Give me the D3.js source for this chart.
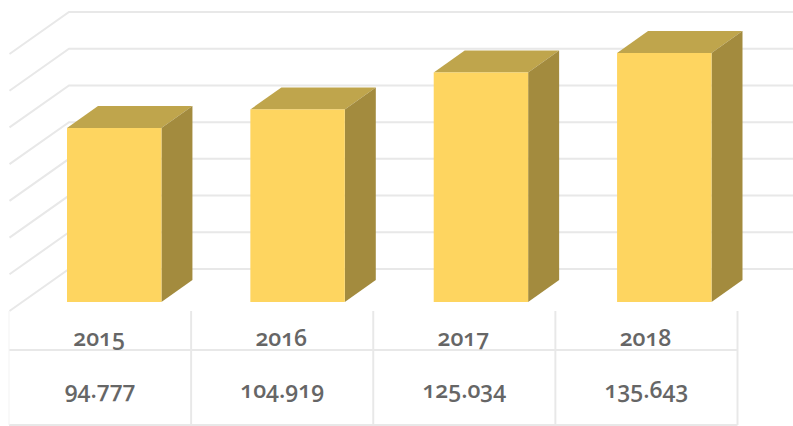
<!DOCTYPE html>
<html>
<head>
<meta charset="utf-8">
<script src="https://cdn.jsdelivr.net/npm/d3@7"></script>
<style>
  html, body { margin: 0; padding: 0; background: #fff; }
  text { font-family: "Open Sans", sans-serif; font-variant-numeric: oldstyle-nums; font-weight: 600; fill: #666; }
</style>
</head>
<body>
<svg id="chart" width="793" height="426"></svg>
<script>
const years = ["2015", "2016", "2017", "2018"];
const amounts = [94.777, 104.919, 125.034, 135.643];
const gridTicks = [0, 20, 40, 60, 80, 100, 120, 140];

const frontFace = "#fed560";
const topFace = "#bfa54c";
const sideFace = "#a38b3e";
const gridColor = "#e8e8e8";

const svg = d3.select("#chart");

// Vertical scale shared by the back wall and the bars; bars sit nearer the viewer.
const wallBase = 269;
const y = d3.scaleLinear().domain([0, 140]).range([0, -257]);
const depthX = 31, depthY = 22;
const frontBase = 302;

// Bars and the data table use slightly different horizontal bands.
const barX = d3.scaleBand().domain(years).range([67, 711.5]).paddingInner(0.485).paddingOuter(0);
const cellX = d3.scaleBand().domain(years).range([9, 737.5]);

// Back wall gridlines with their diagonals running along the side wall
const wallLeft = 69, wallRight = 793, sideLeft = 9.5, sideDrop = 42;
const grid = svg.append("g").attr("fill", "none").attr("stroke", gridColor).attr("stroke-width", 2);
grid.selectAll("path").data(gridTicks).join("path")
  .attr("d", t => {
    const gy = wallBase + y(t);
    return d3.line()([[sideLeft, gy + sideDrop], [wallLeft, gy], [wallRight, gy]]);
  });

// Extruded bars: top, side, then front face
const bars = svg.append("g").selectAll("g").data(years).join("g");
const data = d => amounts[years.indexOf(d)];
const poly = pts => d3.line()(pts) + "Z";

bars.append("path").attr("fill", topFace).attr("d", d => {
  const x0 = barX(d), x1 = x0 + barX.bandwidth(), t = frontBase + y(data(d));
  return poly([[x0, t], [x0 + depthX, t - depthY], [x1 + depthX, t - depthY], [x1, t]]);
});
bars.append("path").attr("fill", sideFace).attr("d", d => {
  const x1 = barX(d) + barX.bandwidth(), t = frontBase + y(data(d));
  return poly([[x1, t], [x1 + depthX, t - depthY], [x1 + depthX, frontBase - depthY], [x1, frontBase]]);
});
bars.append("rect").attr("fill", frontFace)
  .attr("x", d => barX(d))
  .attr("width", barX.bandwidth())
  .attr("y", d => frontBase + y(data(d)))
  .attr("height", d => -y(data(d)));

// Data table beneath the bars
const tableTop = 311, rowLine = 350, tableBottom = 425;
const table = svg.append("g").attr("stroke", gridColor).attr("stroke-width", 2);
table.selectAll("line.col").data(years).join("line").attr("class", "col")
  .attr("x1", d => cellX(d) + cellX.bandwidth()).attr("x2", d => cellX(d) + cellX.bandwidth())
  .attr("y1", tableTop).attr("y2", tableBottom);
table.selectAll("line.row").data([rowLine, tableBottom]).join("line").attr("class", "row")
  .attr("x1", cellX.range()[0]).attr("x2", cellX.range()[1])
  .attr("y1", d => d).attr("y2", d => d);
table.append("line").attr("stroke", "#f3f3f3").attr("stroke-width", 1)
  .attr("x1", 9).attr("x2", 9).attr("y1", tableTop).attr("y2", tableBottom);

const labels = svg.append("g").attr("text-anchor", "middle").attr("font-size", 23);
labels.selectAll("text.year").data(years).join("text").attr("class", "year")
  .attr("x", d => cellX(d) + cellX.bandwidth() / 2 - 1)
  .attr("y", 346)
  .text(d => d);
labels.selectAll("text.amount").data(years).join("text").attr("class", "amount")
  .attr("x", d => cellX(d) + cellX.bandwidth() / 2)
  .attr("y", 398)
  .text(d => d3.format(".3f")(data(d)));
</script>
</body>
</html>
